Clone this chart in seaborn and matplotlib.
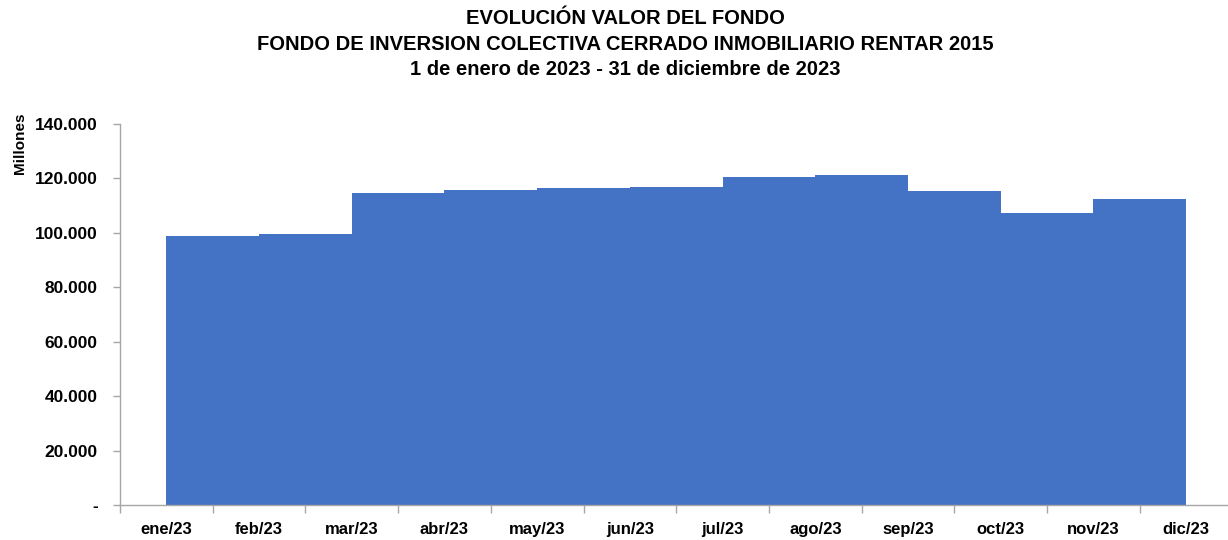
import matplotlib
matplotlib.use("Agg")
import matplotlib.pyplot as plt
import matplotlib.ticker as ticker
import seaborn as sns
import numpy as np

# datos (millones)
meses = ["ene/23", "feb/23", "mar/23", "abr/23", "may/23", "jun/23",
         "jul/23", "ago/23", "sep/23", "oct/23", "nov/23", "dic/23"]
valor_fondo = [98800, 99500, 114600, 115600, 116300, 116800,
               120700, 121400, 115400, 107200, 112500]
y_ticks = [0, 20000, 40000, 60000, 80000, 100000, 120000, 140000]

titulo = ("EVOLUCIÓN VALOR DEL FONDO\n"
          "FONDO DE INVERSION COLECTIVA CERRADO INMOBILIARIO RENTAR 2015\n"
          "1 de enero de 2023 - 31 de diciembre de 2023")

sns.set_style("white")
plt.rcParams["font.family"] = ["Liberation Sans", "DejaVu Sans"]
plt.rcParams["font.weight"] = "bold"
plt.rcParams["text.color"] = "black"
plt.rcParams["xtick.labelcolor"] = "black"
plt.rcParams["ytick.labelcolor"] = "black"

fig = plt.figure(figsize=(12.28, 5.40), dpi=100)
ax = fig.add_axes([0.0977, 0.0648, 0.906, 0.7056])

# cada escalon va del centro de un mes al centro del siguiente
pos = np.arange(len(valor_fondo)) + 0.5
sns.barplot(x=pos, y=valor_fondo, native_scale=True, width=1,
            color="#4472C4", saturation=1, linewidth=0, ax=ax)

ax.set_xlim(-0.5, len(meses) - 0.5)
ax.set_ylim(0, 140000)

ax.set_xticks(np.arange(len(meses)))
ax.set_xticklabels(meses, fontsize=12, fontweight="bold")
ax.set_xticks(np.arange(len(meses) + 1) - 0.5, minor=True)
ax.tick_params(axis="x", which="major", length=0, pad=12)
ax.tick_params(axis="x", which="minor", length=6, color="#A6A6A6", width=1,
               bottom=True)

ax.set_yticks(y_ticks)
ax.yaxis.set_major_formatter(ticker.FuncFormatter(
    lambda v, p: "-" if v == 0 else f"{v:,.0f}".replace(",", ".")))
ax.tick_params(axis="y", length=5, color="#A6A6A6", width=1, pad=11,
               labelsize=12.5, left=True)
for lbl in ax.get_yticklabels():
    lbl.set_fontweight("bold")

for s in ["top", "right"]:
    ax.spines[s].set_visible(False)
for s in ["left", "bottom"]:
    ax.spines[s].set_color("#A6A6A6")
    ax.spines[s].set_linewidth(1)

ax.set_xlabel("")
ax.set_ylabel("")
fig.text(0.016, 0.735, "Millones", rotation=90, ha="center", va="center",
         fontsize=11, fontweight="bold")

fig.text(0.509, 0.9185, titulo, ha="center", va="center", fontsize=14.5,
         fontweight="bold", linespacing=1.42)

fig.savefig("out.png", dpi=100)
